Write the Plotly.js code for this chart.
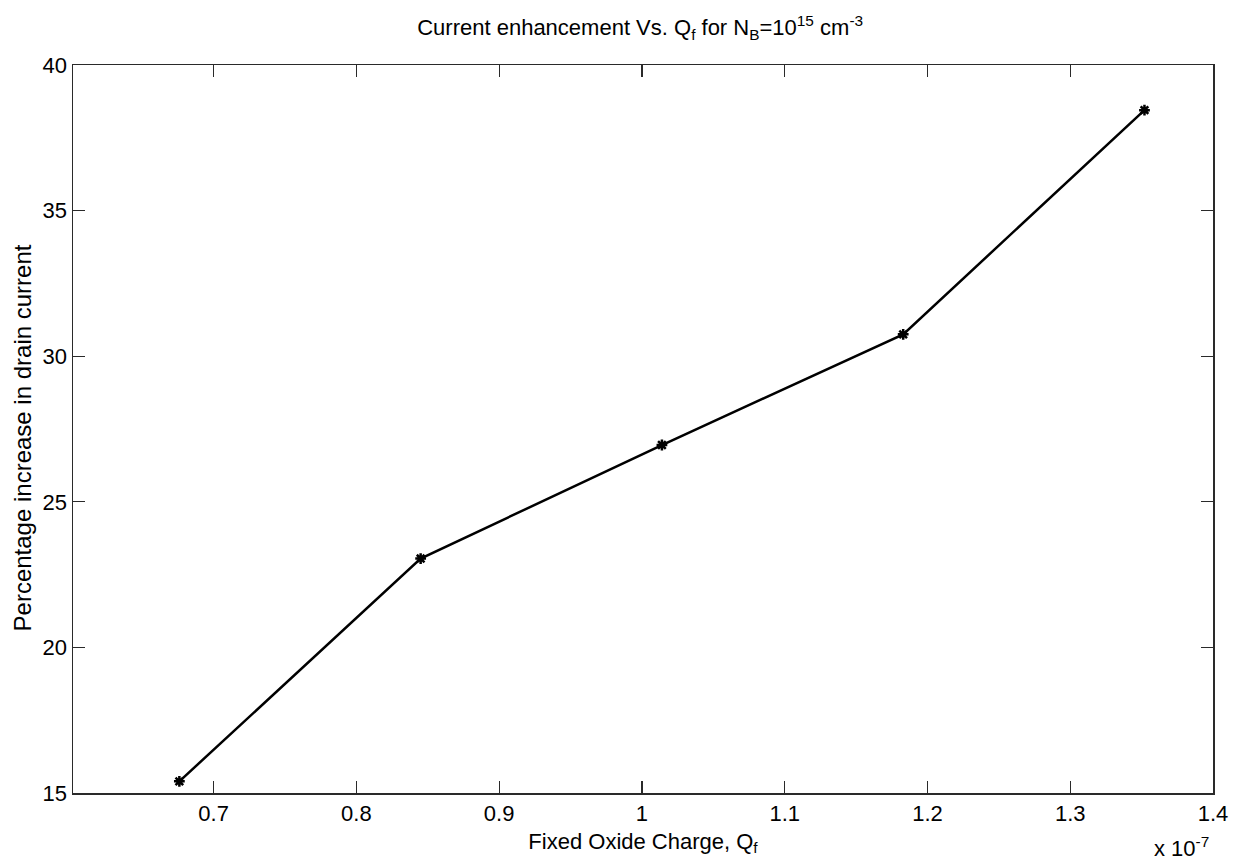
<!DOCTYPE html>
<html>
<head>
<meta charset="utf-8">
<script src="https://cdn.plot.ly/plotly-3.0.1.min.js"></script>
<style>
  html, body { margin: 0; padding: 0; background: #fff; }
  #chart { width: 1243px; height: 865px; }
</style>
</head>
<body>
<div id="chart"></div>
<script>
// Fixed oxide charge (in units of 1e-7) and the resulting drain-current gain (%)
const fixedOxideCharge = [0.676, 0.845, 1.014, 1.183, 1.352];
const currentIncrease = [15.4, 23.05, 26.95, 30.75, 38.45];
const xTicks = [0.7, 0.8, 0.9, 1.0, 1.1, 1.2, 1.3, 1.4];
const xTickLabels = ['0.7', '0.8', '0.9', '1', '1.1', '1.2', '1.3', '1.4'];
const yTicks = [15, 20, 25, 30, 35, 40];

const FONT = '"Liberation Sans Narrow", "Arial Narrow", "Liberation Sans", Arial, sans-serif';

const trace = {
  x: fixedOxideCharge,
  y: currentIncrease,
  type: 'scatter',
  mode: 'lines+markers',
  line: { color: '#000', width: 2.5 },
  marker: {
    symbol: 'asterisk-open',
    size: 9,
    color: '#000',
    line: { color: '#000', width: 2.5 }
  },
  hoverinfo: 'skip'
};

const axisCommon = {
  showline: true,
  linecolor: '#2a2a2a',
  linewidth: 1.5,
  mirror: 'ticks',
  ticks: 'inside',
  ticklen: 12,
  tickwidth: 1.2,
  tickcolor: '#2a2a2a',
  showgrid: false,
  zeroline: false,
  tickfont: { family: FONT, size: 22, color: '#000' }
};

const layout = {
  width: 1243,
  height: 865,
  paper_bgcolor: '#fff',
  plot_bgcolor: '#fff',
  showlegend: false,
  margin: { l: 73, r: 30, t: 65, b: 72 },
  title: {
    text: 'Current enhancement Vs. Q<sub>f</sub> for N<sub>B</sub>=10<sup>15</sup> cm<sup>-3</sup>',
    font: { family: FONT, size: 22, color: '#000' },
    x: 0.515,
    xanchor: 'center',
    y: 0.968,
    yanchor: 'middle'
  },
  xaxis: Object.assign({}, axisCommon, {
    range: [0.6015, 1.4],
    tickmode: 'array',
    tickvals: xTicks,
    ticktext: xTickLabels,
    title: {
      text: 'Fixed Oxide Charge, Q<sub>f</sub>',
      font: { family: FONT, size: 22, color: '#000' },
      standoff: 8
    }
  }),
  yaxis: Object.assign({}, axisCommon, {
    range: [15, 40],
    tickmode: 'array',
    tickvals: yTicks,
    title: {
      text: 'Percentage increase in drain current',
      font: { family: FONT, size: 24, color: '#000' },
      standoff: 4
    }
  }),
  annotations: [
    {
      text: 'x 10<sup>-7</sup>',
      xref: 'paper', yref: 'paper',
      x: 1.0, y: 0,
      xanchor: 'right', yanchor: 'top',
      yshift: -38,
      xshift: -2,
      showarrow: false,
      font: { family: FONT, size: 22, color: '#000' }
    }
  ]
};

Plotly.newPlot('chart', [trace], layout, { staticPlot: true, displayModeBar: false }).then(function (gd) {
  // nudge the y-axis title down slightly so it sits centred on the box
  const yt = gd.querySelector('.g-ytitle text');
  if (yt) {
    const t = yt.getAttribute('transform') || '';
    yt.setAttribute('transform', 'translate(0,9) ' + t);
  }
});
</script>
</body>
</html>
